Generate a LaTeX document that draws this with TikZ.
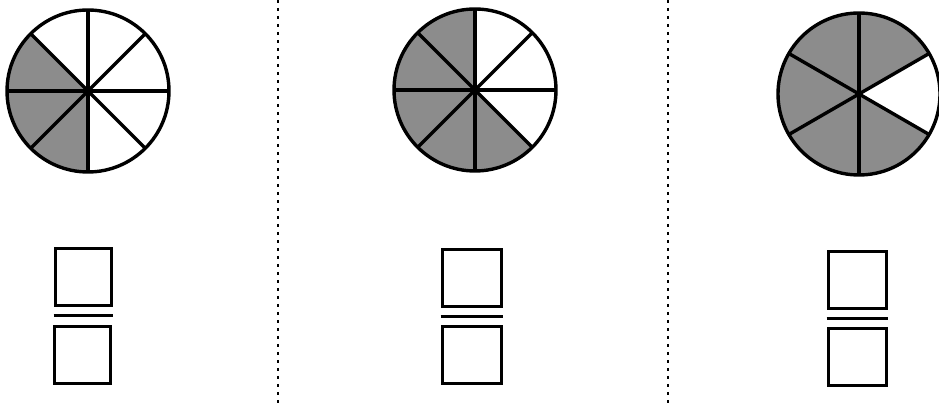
\documentclass[tikz,border=0pt]{standalone}
\begin{document}
\begin{tikzpicture}[x=1pt,y=1pt,
  pieline/.style={line width=3.4pt},
  slice/.style={fill=black!45},
  fracbox/.style={draw, line width=3pt, minimum width=56pt, minimum height=57pt, inner sep=0pt},
  fracbar/.style={line width=3.6pt},
  divider/.style={line width=2.6pt, dash pattern=on 3pt off 5pt}]
\useasboundingbox (0,0) rectangle (939,406);

\coordinate (pie1) at (88,315);
\coordinate (pie2) at (475,316);
\coordinate (pie3) at (859,312);

% shaded parts
\fill[slice] (pie1) -- ++(135:81) arc (135:270:81) -- cycle;
\fill[slice] (pie2) -- ++(90:81) arc (90:315:81) -- cycle;
\fill[slice] (pie3) -- ++(30:81) arc (30:330:81) -- cycle;

% eighths and sixths
\foreach \a in {0,45,...,315} {
  \draw[pieline] (pie1) -- ++(\a:81);
  \draw[pieline] (pie2) -- ++(\a:81);
}
\foreach \a in {30,90,...,330}
  \draw[pieline] (pie3) -- ++(\a:81);
\draw[pieline] (pie1) circle (81);
\draw[pieline] (pie2) circle (81);
\draw[pieline] (pie3) circle (81);

% answer boxes
\node[fracbox] (num1) at (83,128.5) {};
\node[fracbox] (den1) at (82,50.5) {};
\node[fracbox, minimum width=59pt] (num2) at (471.5,127.5) {};
\node[fracbox, minimum width=59pt] (den2) at (471.5,50.5) {};
\node[fracbox, minimum width=58pt] (num3) at (857,125.5) {};
\node[fracbox, minimum width=58pt] (den3) at (857,48.5) {};

\draw[fracbar] ([yshift=-8pt]num1.south west) -- ([yshift=-8pt]num1.south east);
\draw[fracbar] ([yshift=-8pt]num2.south west) -- ([yshift=-8pt]num2.south east);
\draw[fracbar] ([yshift=-8pt]num3.south west) -- ([yshift=-8pt]num3.south east);

% panel dividers
\draw[divider] (278,406) -- (278,0);
\draw[divider] (668,406) -- (668,0);
\end{tikzpicture}
\end{document}
